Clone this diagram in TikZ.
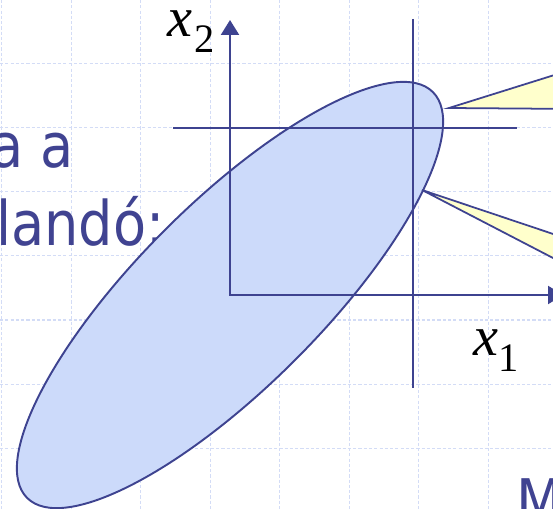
\documentclass[tikz,border=0pt]{standalone}
\usepackage{fontspec}
\usetikzlibrary{arrows.meta}
\newfontfamily\slidefont[FakeStretch=0.88]{DejaVu Sans}
\newfontfamily\tms{Liberation Serif}
\definecolor{ink}{HTML}{3E4390}
\definecolor{txtblue}{HTML}{404391}
\definecolor{gridc}{HTML}{D3DCF6}
\definecolor{ellfill}{HTML}{CCDAFA}
\definecolor{callfill}{HTML}{FFFFCC}
\begin{document}
\begin{tikzpicture}[x=0.02cm,y=-0.02cm,
  gridline/.style={gridc, line width=0.6pt, dash pattern=on 1.8pt off 1.2pt},
  axis/.style={ink, line width=1.3pt, line join=miter, {Triangle[length=0.3cm,width=0.36cm]}-{Triangle[length=0.3cm,width=0.36cm]}},
  cross/.style={ink, line width=1.1pt},
  callout/.style={draw=ink, fill=callfill, line width=1pt, line join=miter},
  slidetext/.style={inner sep=0pt, text=txtblue, font=\slidefont\fontsize{35}{42}\selectfont},
  mathlbl/.style={inner sep=0pt, anchor=base west, font=\tms}]
\useasboundingbox (0,0) rectangle (553,509);
\clip (0,0) rectangle (553,509);
\fill[white] (0,0) rectangle (553,509);
% background grid
\foreach \i in {0,...,7} \draw[gridline] ({1.7+69.5*\i},0) -- ({1.7+69.5*\i},509);
\foreach \j in {0,...,8} \draw[gridline] (0,{-1+64.2*\j}) -- (553,{-1+64.2*\j});
% slide text
\node[slidetext, anchor=base east] (t1) at (74,168) {a a};
\node[slidetext, anchor=base west] (t2) at (-4,246) {landó:};
\node[slidetext, anchor=base west] (t3) at (516,523) {M};
% ellipse
\coordinate (o) at (230,295);
\draw[ink, line width=1.1pt, fill=ellfill, rotate around={45:(o)}] (o) ellipse [x radius=5.74cm, y radius=1.84cm];
% crosshair
\coordinate (vt) at (413,19);
\coordinate (vb) at (413,388);
\coordinate (hl) at (173,128);
\coordinate (hr) at (517,128);
\draw[cross] (vt) -- (vb);
\draw[cross] (hl) -- (hr);
% axes
\coordinate (x2tip) at (230,20);
\coordinate (x1tip) at (563,295);
\draw[axis] (x2tip) -- (o) -- (x1tip);
% callouts
\coordinate (c1) at (449,108);
\coordinate (c2) at (422,190);
\draw[callout] (c1) -- (580,67) -- (580,109) -- cycle;
\draw[callout] (c2) -- (580,243) -- (580,272) -- cycle;
% axis labels
\node[mathlbl] (lx2) at (167,37) {{\fontsize{32}{32}\selectfont\itshape x}\kern1.5pt\raisebox{-9pt}{\fontsize{23}{23}\selectfont 2}};
\node[mathlbl] (lx1) at (473,355) {{\fontsize{32}{32}\selectfont\itshape x}\raisebox{-9.5pt}{\fontsize{23}{23}\selectfont 1}};
\end{tikzpicture}
\end{document}
